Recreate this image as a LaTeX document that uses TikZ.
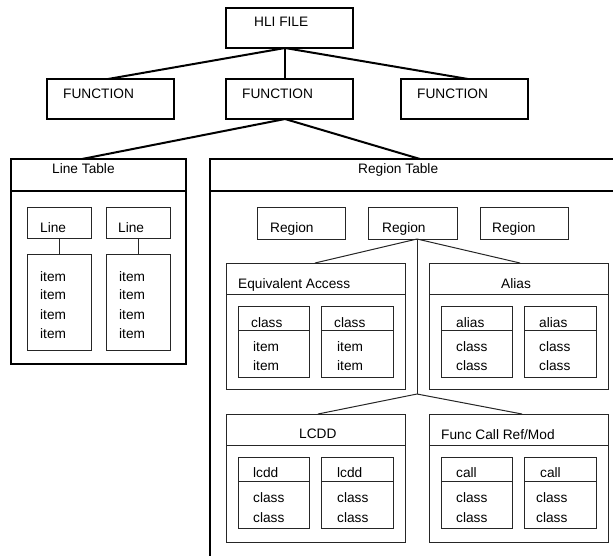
\documentclass[tikz,border=0pt]{standalone}
\usepackage{fontspec}
\setmainfont{Liberation Sans}
\newcommand\bx[6]{\node[#1, anchor=north west, minimum width={(#5-#3)*1pt}, minimum height={(#6-#4)*1pt}] (#2) at (#3,#4) {};}
\begin{document}
\begin{tikzpicture}[x=1pt,y=-1pt,
  thickbox/.style={draw, line width=2pt, inner sep=0pt, outer sep=0pt},
  thinbox/.style={draw=black!85, line width=1pt, inner sep=0pt, outer sep=0pt},
  txt/.style={inner sep=0pt, anchor=base west, font=\fontsize{13.7}{16}\selectfont},
  tcon/.style={line width=2pt},
  ncon/.style={draw=black!85, line width=1pt}]
\useasboundingbox (0,0) rectangle (613,555);
\clip (0,0) rectangle (613,555);
% top level
\bx{thickbox}{hli}{226}{8}{353}{48}
\bx{thickbox}{fa}{47}{79}{174}{119}
\bx{thickbox}{fb}{226}{79}{353}{119}
\bx{thickbox}{fc}{401}{79}{528}{119}
\node[txt] (thli) at (254,26) {HLI FILE};
\node[txt] (tfa) at (63,98) {FUNCTION};
\node[txt] (tfb) at (242,98) {FUNCTION};
\node[txt] (tfc) at (417,98) {FUNCTION};
% tables
\bx{thickbox}{lth}{11}{159}{186}{191}
\bx{thickbox}{ltb}{11}{191}{186}{364}
\bx{thickbox}{rth}{210}{159}{650}{191}
\bx{thickbox}{rtb}{210}{191}{650}{590}
\node[txt] (tlt) at (52,173) {Line Table};
\node[txt] (trt) at (358,173) {Region Table};
% connectors top
\draw[tcon] ([xshift=-4.5pt]hli.south) -- ([xshift=-2.5pt]fa.north);
\draw[tcon] ([xshift=-4.5pt]hli.south) -- ([xshift=-4.5pt]fb.north);
\draw[tcon] ([xshift=-4.5pt]hli.south) -- ([xshift=3.5pt]fc.north);
\draw[tcon] ([xshift=-4.5pt]fb.south) -- ([xshift=71pt]lth.north west);
\draw[tcon] ([xshift=-4.5pt]fb.south) -- ([xshift=210pt]rth.north west);
% line table content
\bx{thinbox}{la}{27}{207}{91}{238}
\bx{thinbox}{lb}{106}{207}{170}{238}
\bx{thinbox}{ia}{27}{254}{91}{350}
\bx{thinbox}{ib}{106}{254}{170}{350}
\draw[ncon] (la.south) -- (ia.north);
\draw[ncon] (lb.south) -- (ib.north);
\node[txt] (tla) at (40,232) {Line};
\node[txt] (tlb) at (118,232) {Line};
\foreach \yy [count=\k] in {281,299,319,338} {
  \node[txt] (tia\k) at (40,\yy) {item};
  \node[txt] (tib\k) at (119,\yy) {item};
}
% regions
\bx{thinbox}{ra}{257}{207}{345}{239}
\bx{thinbox}{rb}{368}{207}{457}{239}
\bx{thinbox}{rc}{480}{207}{568}{239}
\node[txt] (tra) at (270,232) {Region};
\node[txt] (trb) at (382,232) {Region};
\node[txt] (trc) at (492,232) {Region};
% group boxes
\bx{thinbox}{eah}{226}{263}{405}{294}
\bx{thinbox}{eab}{226}{294}{405}{389}
\bx{thinbox}{alh}{429}{263}{608}{294}
\bx{thinbox}{alb}{429}{294}{608}{389}
\bx{thinbox}{lch}{226}{414}{405}{445}
\bx{thinbox}{lcb}{226}{445}{405}{542}
\bx{thinbox}{fch}{429}{414}{608}{445}
\bx{thinbox}{fcb}{429}{445}{608}{542}
\node[txt] (tea) at (238,288) {Equivalent Access};
\node[txt] (tal) at (501,288) {Alias};
\node[txt] (tlc) at (299,438) {LCDD};
\node[txt] (tfcr) at (441,439) {Func Call Ref/Mod};
% region connectors
\coordinate (jn) at (417,394);
\draw[ncon] ([xshift=4.5pt]rb.south) -- ([xshift=89pt]eah.north west);
\draw[ncon] ([xshift=4.5pt]rb.south) -- ([xshift=91pt]alh.north west);
\draw[ncon] ([xshift=4.5pt]rb.south) -- (jn);
\draw[ncon] (jn) -- ([xshift=92pt]lch.north west);
\draw[ncon] (jn) -- ([xshift=93pt]fch.north west);
% inner boxes: equivalent access
\bx{thinbox}{eaah}{238}{306}{309}{330}
\bx{thinbox}{eaab}{238}{330}{309}{377}
\bx{thinbox}{eabh}{321}{306}{393}{330}
\bx{thinbox}{eabb}{321}{330}{393}{377}
\node[txt] (teaa) at (251,327) {class};
\node[txt] (teab) at (334,327) {class};
\node[txt] (teaa1) at (253,351) {item};
\node[txt] (teaa2) at (253,370) {item};
\node[txt] (teab1) at (337,351) {item};
\node[txt] (teab2) at (337,370) {item};
% alias
\bx{thinbox}{alah}{441}{306}{512}{330}
\bx{thinbox}{alab}{441}{330}{512}{377}
\bx{thinbox}{albh}{524}{306}{596}{330}
\bx{thinbox}{albb}{524}{330}{596}{377}
\node[txt] (tala) at (456,327) {alias};
\node[txt] (talb) at (539,327) {alias};
\node[txt] (tala1) at (456,351) {class};
\node[txt] (tala2) at (456,370) {class};
\node[txt] (talb1) at (539,351) {class};
\node[txt] (talb2) at (539,370) {class};
% lcdd
\bx{thinbox}{lcah}{238}{457}{309}{481}
\bx{thinbox}{lcab}{238}{481}{309}{528}
\bx{thinbox}{lcbh}{321}{457}{393}{481}
\bx{thinbox}{lcbb}{321}{481}{393}{528}
\node[txt] (tlca) at (253,477) {lcdd};
\node[txt] (tlcb) at (337,477) {lcdd};
\node[txt] (tlca1) at (253,502) {class};
\node[txt] (tlca2) at (253,522) {class};
\node[txt] (tlcb1) at (337,502) {class};
\node[txt] (tlcb2) at (337,522) {class};
% func call
\bx{thinbox}{fcah}{441}{457}{512}{481}
\bx{thinbox}{fcab}{441}{481}{512}{528}
\bx{thinbox}{fcbh}{524}{457}{596}{481}
\bx{thinbox}{fcbb}{524}{481}{596}{528}
\node[txt] (tfca) at (456,477) {call};
\node[txt] (tfcb) at (540,477) {call};
\node[txt] (tfca1) at (456,502) {class};
\node[txt] (tfca2) at (456,522) {class};
\node[txt] (tfcb1) at (536,502) {class};
\node[txt] (tfcb2) at (536,522) {class};
\end{tikzpicture}
\end{document}
